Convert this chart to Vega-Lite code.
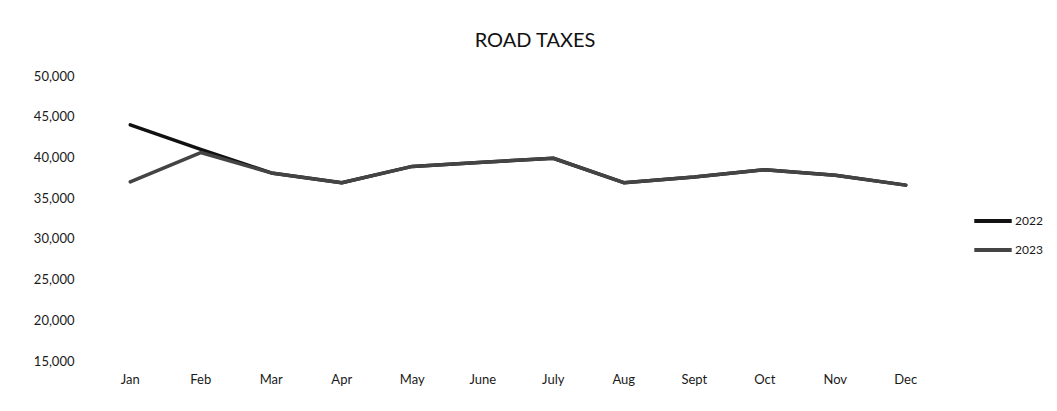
{
  "$schema": "https://vega.github.io/schema/vega-lite/v6.json",
  "width": 846,
  "height": 285,
  "autosize": {"type": "none"},
  "padding": {"left": 95, "top": 76, "right": 116, "bottom": 50},
  "background": "white",
  "title": {"text": "ROAD TAXES", "fontSize": 20, "fontWeight": "normal", "font": "Lato", "color": "#111", "anchor": "middle", "dx": 17, "offset": 19},
  "data": {"values": [
    {"month": "Jan", "year": "2022", "value": 44000},
    {"month": "Feb", "year": "2022", "value": 41000},
    {"month": "Mar", "year": "2022", "value": 38100},
    {"month": "Apr", "year": "2022", "value": 36900},
    {"month": "May", "year": "2022", "value": 38900},
    {"month": "June", "year": "2022", "value": 39400},
    {"month": "July", "year": "2022", "value": 39900},
    {"month": "Aug", "year": "2022", "value": 36900},
    {"month": "Sept", "year": "2022", "value": 37600},
    {"month": "Oct", "year": "2022", "value": 38500},
    {"month": "Nov", "year": "2022", "value": 37800},
    {"month": "Dec", "year": "2022", "value": 36600},
    {"month": "Jan", "year": "2023", "value": 37000},
    {"month": "Feb", "year": "2023", "value": 40600},
    {"month": "Mar", "year": "2023", "value": 38100},
    {"month": "Apr", "year": "2023", "value": 36900},
    {"month": "May", "year": "2023", "value": 38900},
    {"month": "June", "year": "2023", "value": 39400},
    {"month": "July", "year": "2023", "value": 39900},
    {"month": "Aug", "year": "2023", "value": 36900},
    {"month": "Sept", "year": "2023", "value": 37600},
    {"month": "Oct", "year": "2023", "value": 38500},
    {"month": "Nov", "year": "2023", "value": 37800},
    {"month": "Dec", "year": "2023", "value": 36600}
  ]},
  "mark": {"type": "line", "strokeWidth": 3.5, "strokeCap": "round", "strokeJoin": "round"},
  "encoding": {
    "x": {
      "field": "month", "type": "ordinal",
      "sort": ["Jan", "Feb", "Mar", "Apr", "May", "June", "July", "Aug", "Sept", "Oct", "Nov", "Dec"],
      "scale": {"type": "band", "paddingInner": 0, "paddingOuter": 0},
      "axis": {"title": null, "labelAngle": 0, "domain": false, "ticks": false, "grid": false, "labelPadding": 12, "labelFontSize": 13, "labelFont": "Lato", "labelColor": "#1a1a1a"}
    },
    "y": {
      "field": "value", "type": "quantitative",
      "scale": {"domain": [15000, 50000], "nice": false, "zero": false},
      "axis": {"title": null, "values": [15000, 20000, 25000, 30000, 35000, 40000, 45000, 50000], "format": ",d", "domain": false, "ticks": false, "grid": false, "labelPadding": 21, "labelFontSize": 13, "labelFont": "Lato", "labelColor": "#1a1a1a"}
    },
    "color": {
      "field": "year", "type": "nominal",
      "scale": {"domain": ["2022", "2023"], "range": ["#111111", "#444444"]},
      "legend": {"title": null, "orient": "none", "legendX": 877, "legendY": 124, "symbolType": "stroke", "symbolSize": 1400, "symbolStrokeWidth": 4, "labelFontSize": 12, "labelFont": "Lato", "labelColor": "#1a1a1a", "labelOffset": 1, "rowPadding": -5}
    },
    "order": {"field": "year", "type": "nominal"}
  },
  "config": {"view": {"stroke": null}}
}
